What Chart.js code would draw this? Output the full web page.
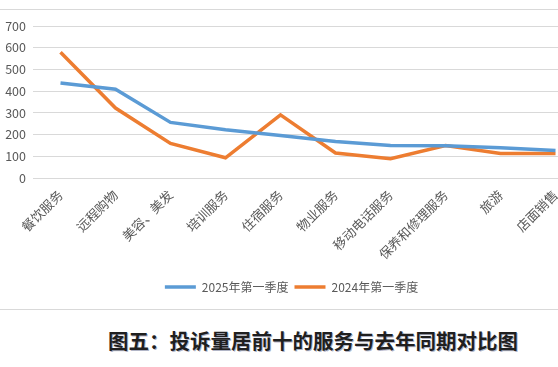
<!DOCTYPE html>
<html><head><meta charset="utf-8">
<script src="https://cdn.jsdelivr.net/npm/chart.js@4"></script>
<style>
html,body{margin:0;padding:0;background:#fff;overflow:hidden;width:558px;height:367px;}
#wrap{position:absolute;left:0;top:0;width:590px;height:303px;}
.rule{position:absolute;left:0;width:558px;height:1px;background:#d9d9d9;}
#title{position:absolute;left:0;width:626px;top:326px;text-align:center;font-family:"Noto Sans CJK SC",sans-serif;font-weight:bold;font-size:20.5px;line-height:28px;color:#1f1f1f;text-shadow:1px 1px 0 rgba(30,40,90,0.35);}
</style></head><body>
<div class="rule" style="top:9px"></div>
<div class="rule" style="top:309px"></div>
<div id="wrap"><canvas id="c"></canvas></div>
<div id="title">图五：投诉量居前十的服务与去年同期对比图</div>
<script>
const categories = ["餐饮服务","远程购物","美容、美发","培训服务","住宿服务","物业服务","移动电话服务","保养和修理服务","旅游","店面销售"];
const series2025 = [438,409,256,222,196,168,150,148,139,127];
const series2024 = [579,322,159,93,291,115,89,150,113,113];
const yTicks = [0,100,200,300,400,500,600,700];

const FONT = '"Noto Sans CJK SC", sans-serif';
new Chart(document.getElementById('c'), {
  type: 'line',
  data: {
    labels: categories,
    datasets: [
      {label:'2025年第一季度', data: series2025, borderColor:'#5B9BD5', backgroundColor:'#5B9BD5', borderWidth:3.5, pointRadius:0, tension:0, fill:false},
      {label:'2024年第一季度', data: series2024, borderColor:'#ED7D31', backgroundColor:'#ED7D31', borderWidth:3.5, pointRadius:0, tension:0, fill:false}
    ]
  },
  options: {
    responsive: true,
    maintainAspectRatio: false,
    animation: false,
    layout: {padding: {top: 26, right: 7, left: 0, bottom: 0}},
    plugins: {
      tooltip: {enabled:false},
      legend: {
        position: 'bottom',
        labels: {usePointStyle:true, pointStyle:'line', pointStyleWidth:31, boxHeight:12, padding:6, color:'#595959', font:{family:FONT, size:12}}
      }
    },
    scales: {
      x: {
        offset: true,
        grid: {display:false, drawTicks:false},
        border: {display:false},
        ticks: {minRotation:45, maxRotation:45, autoSkip:false, padding:9, color:'#595959', font:{family:FONT, size:13}},
        afterFit: s => { s.height = 97; }
      },
      y: {
        min: 0, max: 700,
        afterBuildTicks: s => { s.ticks = yTicks.map(v => ({value:v})); },
        grid: {color:'#d9d9d9', lineWidth:1, drawTicks:false},
        border: {display:false},
        ticks: {padding:7, color:'#595959', font:{family:FONT, size:12.5}},
        afterFit: s => { s.width = 33; }
      }
    }
  }
});
</script>
</body></html>
